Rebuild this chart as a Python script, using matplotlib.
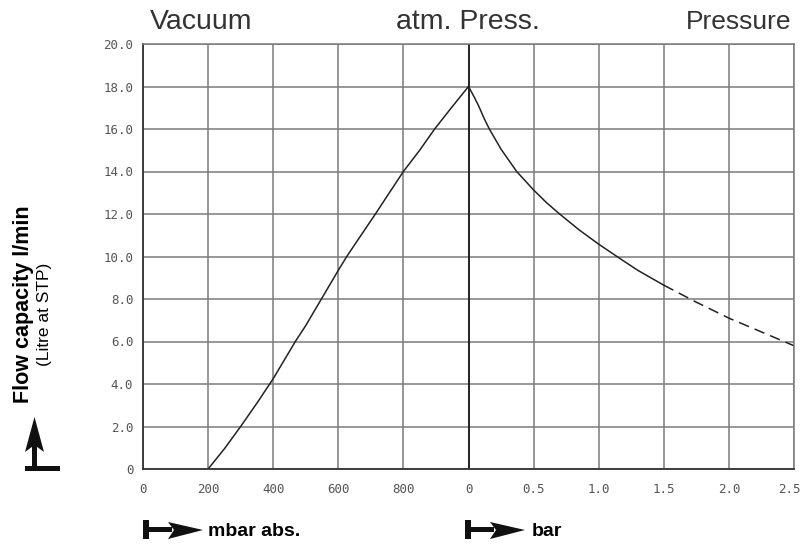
import matplotlib.pyplot as plt
from matplotlib.patches import Polygon
from matplotlib.transforms import ScaledTranslation
import numpy as np

# data
vac_mbar = [200, 250, 300, 350, 400, 468, 500, 550, 600, 626, 650, 714, 750, 800, 850, 896, 950, 1000]
vac_flow = [0, 0.95, 2.0, 3.1, 4.25, 6.0, 6.75, 8.05, 9.35, 10.0, 10.55, 12.0, 12.84, 14.0, 15.0,
            16.0, 17.05, 18.0]

pr_bar = [0, 0.04, 0.077, 0.12, 0.16, 0.25, 0.37, 0.5, 0.6, 0.7, 0.85, 1.0, 1.14, 1.3, 1.5]
pr_flow = [18.0, 17.55, 17.1, 16.5, 16.0, 15.05, 14.0, 13.13, 12.53, 12.0, 11.25, 10.58, 10.0,
           9.35, 8.65]

pr_bar_dash = [1.5, 1.75, 2.0, 2.25, 2.5]
pr_flow_dash = [8.65, 7.85, 7.1, 6.45, 5.8]

x_labels = ["0", "200", "400", "600", "800", "0", "0.5", "1.0", "1.5", "2.0", "2.5"]
y_ticks = [0, 2, 4, 6, 8, 10, 12, 14, 16, 18, 20]
y_labels = ["0"] + ["%.1f" % v for v in y_ticks[1:]]

# map both scales on one axis: 0..1000 mbar -> 0..5, 0..2.5 bar -> 5..10
def mbar_x(v):
    return np.array(v) / 200.0

def bar_x(v):
    return 5 + np.array(v) * 2.0

W, H = 803, 546
fig = plt.figure(figsize=(W / 100, H / 100), dpi=100)
ax = fig.add_axes([143 / W, 1 - 469 / H, (794 - 143) / W, (469 - 44) / H])

ax.set_xlim(0, 10)
ax.set_ylim(0, 20)
ax.set_xticks(range(11))
ax.set_xticklabels(x_labels)
ax.set_yticks(y_ticks)
ax.set_yticklabels(y_labels)
ax.tick_params(length=0, labelsize=9, labelcolor="#555555")
ax.tick_params(axis="y", pad=7)
ax.tick_params(axis="x", pad=10)
for lab in ax.get_xticklabels() + ax.get_yticklabels():
    lab.set_family("DejaVu Sans Mono")
# last label sits right at the figure edge
last = ax.get_xticklabels()[-1]
last.set_transform(last.get_transform() + ScaledTranslation(-5 / 100, 0, fig.dpi_scale_trans))

ax.grid(True, color="#7a7a7a", linewidth=1.1)
ax.set_axisbelow(True)
for s in ["top", "right"]:
    ax.spines[s].set_color("#7a7a7a")
    ax.spines[s].set_linewidth(1.1)
for s in ["left", "bottom"]:
    ax.spines[s].set_color("#333333")
    ax.spines[s].set_linewidth(1.3)
ax.axvline(5, color="#111111", linewidth=1.2)

line_c = "#222222"
ax.plot(mbar_x(vac_mbar), vac_flow, color=line_c, linewidth=1.1)
ax.plot(bar_x(pr_bar), pr_flow, color=line_c, linewidth=1.1)
ax.plot(bar_x(pr_bar_dash), pr_flow_dash, color=line_c, linewidth=1.1,
        linestyle=(0, (7, 4)))

# header texts
def fx(px):
    return px / W

def fy(py):
    return 1 - py / H

hdr = dict(color="#333333", family="Liberation Sans", va="center")
fig.text(fx(150), fy(22), "Vacuum", ha="left", fontsize=20.5, **hdr)
fig.text(fx(468), fy(22), "atm. Press.", ha="center", fontsize=20.5, **hdr)
fig.text(fx(791), fy(22), "Pressure", ha="right", fontsize=19, **hdr)

# y axis label
fig.text(fx(24), fy(304), "Flow capacity l/min", rotation=90, ha="center", va="center",
         fontsize=15.5, fontweight="bold", family="Liberation Sans")
fig.text(fx(45), fy(314), "(Litre at STP)", rotation=90, ha="center", va="center",
         fontsize=12.5, family="Liberation Sans")

# unit arrows
def poly(pts):
    p = Polygon([(fx(a), fy(b)) for a, b in pts], closed=True, transform=fig.transFigure,
                facecolor="#111111", edgecolor="none")
    fig.add_artist(p)

def right_arrow(x0):
    poly([(x0, 520), (x0 + 6, 520), (x0 + 6, 539), (x0, 539)])
    poly([(x0 + 6, 527), (x0 + 29, 527), (x0 + 29, 532), (x0 + 6, 532)])
    poly([(x0 + 25, 522), (x0 + 60, 530), (x0 + 25, 539), (x0 + 31, 530)])

right_arrow(143)
right_arrow(465)
fig.text(fx(208), fy(531), "mbar abs.", ha="left", va="center", fontsize=14,
         fontweight="bold", family="Liberation Sans")
fig.text(fx(532), fy(531), "bar", ha="left", va="center", fontsize=14,
         fontweight="bold", family="Liberation Sans")

# upward arrow near y label
poly([(25, 466), (60, 466), (60, 471), (25, 471)])
poly([(32, 445), (37, 445), (37, 466), (32, 466)])
poly([(34.5, 417), (44, 452), (34.5, 445), (25, 452)])

fig.savefig("out.png", dpi=100, facecolor="white")
